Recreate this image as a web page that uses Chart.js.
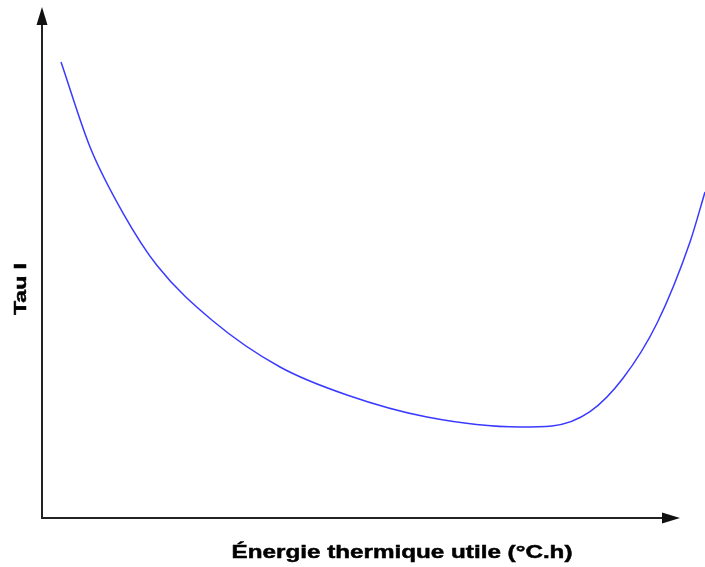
<!DOCTYPE html>
<html>
<head>
<meta charset="utf-8">
<script src="https://cdn.jsdelivr.net/npm/chart.js@4/dist/chart.umd.min.js"></script>
<style>
  html, body { margin: 0; padding: 0; background: #ffffff; }
  #wrap { width: 705px; height: 567px; position: relative; }
</style>
</head>
<body>
<div id="wrap"><canvas id="c" width="705" height="567"></canvas></div>
<script>
// Values (arbitrary units, both axes 0..100, no ticks shown)
const energy = [2.87, 7.24, 12.22, 17.35, 25.79, 35.90, 46.00, 58.07, 72.10, 76.92, 82.65, 87.63, 92.76, 97.74, 100.0];
const tau    = [89.41, 72.75, 59.80, 49.51, 38.63, 29.61, 24.12, 19.80, 17.84, 18.04, 20.84, 27.39, 38.18, 54.12, 63.92];
const xTitle = "Énergie thermique utile (°C.h)";
const yTitle = "Tau I";

const points = energy.map((e, i) => ({ x: e, y: tau[i] }));

const arrowAxes = {
  id: 'arrowAxes',
  afterDraw(chart) {
    const ctx = chart.ctx;
    const a = chart.chartArea;
    const x0 = a.left, y0 = a.bottom;
    ctx.save();
    ctx.strokeStyle = '#222222';
    ctx.fillStyle = '#111111';
    ctx.lineWidth = 2;
    // y axis
    ctx.beginPath();
    ctx.moveTo(x0, y0 + 1);
    ctx.lineTo(x0, 22);
    ctx.stroke();
    ctx.beginPath();
    ctx.moveTo(x0, 7);
    ctx.lineTo(x0 - 5.5, 25);
    ctx.lineTo(x0 + 5.5, 25);
    ctx.closePath();
    ctx.fill();
    // x axis
    ctx.beginPath();
    ctx.moveTo(x0 - 1, y0);
    ctx.lineTo(666, y0);
    ctx.stroke();
    ctx.beginPath();
    ctx.moveTo(680, y0);
    ctx.lineTo(662, y0 - 5.5);
    ctx.lineTo(662, y0 + 5.5);
    ctx.closePath();
    ctx.fill();

    // titles
    ctx.fillStyle = '#000000';
    ctx.strokeStyle = '#000000';
    ctx.lineWidth = 0.5;
    ctx.textAlign = 'center';
    ctx.textBaseline = 'middle';
    ctx.font = 'bold 19px "Liberation Sans", Arial, sans-serif';
    let w = ctx.measureText(xTitle).width;
    ctx.save();
    ctx.translate(402, 553);
    ctx.scale(341 / w, 1);
    ctx.fillText(xTitle, 0, 0);
    ctx.strokeText(xTitle, 0, 0);
    ctx.restore();

    ctx.font = 'bold 17px "Liberation Sans", Arial, sans-serif';
    w = ctx.measureText(yTitle).width;
    ctx.save();
    ctx.translate(21, 289);
    ctx.rotate(-Math.PI / 2);
    ctx.scale(52 / w, 1);
    ctx.fillText(yTitle, 0, 0);
    ctx.strokeText(yTitle, 0, 0);
    ctx.restore();
    ctx.restore();
  }
};

new Chart(document.getElementById('c'), {
  type: 'scatter',
  data: {
    datasets: [{
      data: points,
      showLine: true,
      borderColor: '#3a3aff',
      borderWidth: 1.5,
      pointRadius: 0,
      pointHoverRadius: 0,
      cubicInterpolationMode: 'monotone',
      fill: false
    }]
  },
  options: {
    responsive: false,
    animation: false,
    events: [],
    layout: { padding: { left: 42, right: 0, top: 8, bottom: 49 } },
    plugins: { legend: { display: false }, tooltip: { enabled: false } },
    scales: {
      x: { type: 'linear', min: 0, max: 100, display: false },
      y: { type: 'linear', min: 0, max: 100, display: false }
    }
  },
  plugins: [arrowAxes]
});
</script>
</body>
</html>
